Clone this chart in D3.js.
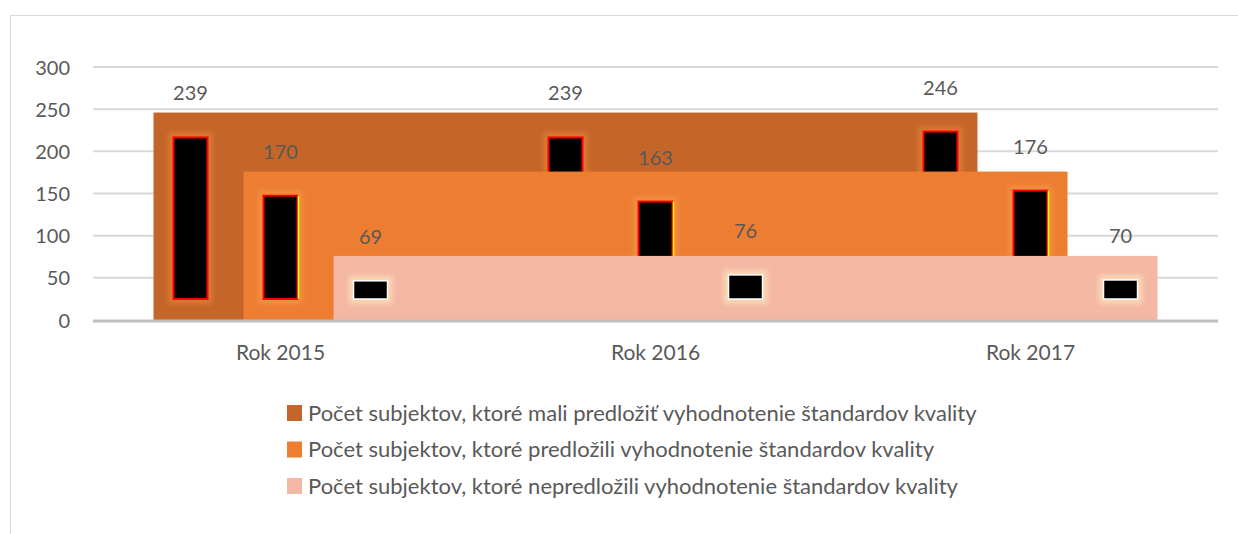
<!DOCTYPE html>
<html><head><meta charset="utf-8">
<script src="https://cdn.jsdelivr.net/npm/d3@7"></script>
<style>body{margin:0;background:#fff}svg{display:block}text{font-family:Lato,"Noto Sans",sans-serif;fill:#595959}</style>
</head><body><svg id="c" width="1238" height="534"></svg>
<script>
const categories = ["Rok 2015", "Rok 2016", "Rok 2017"];
const seriesNames = [
  "Počet subjektov, ktoré mali predložiť vyhodnotenie štandardov kvality",
  "Počet subjektov, ktoré predložili vyhodnotenie štandardov kvality",
  "Počet subjektov, ktoré nepredložili vyhodnotenie štandardov kvality"
];
const malPredlozit = [239, 239, 246];
const predlozili = [170, 163, 176];
const nepredlozili = [69, 76, 70];
const yTicks = [0, 50, 100, 150, 200, 250, 300];
const colors = ["#C4652A", "#ED7D31", "#F3B7A4"];
const rimColors = ["#FF0000", "#FF0000", "#FFFFFF"];
const haloColors = ["#F08A3A", "#F5A050", "#FFF0C0"];

const seriesValues = [malPredlozit, predlozili, nepredlozili];
const svg = d3.select("#c");
const defs = svg.append("defs");
defs.append("filter").attr("id","blur").attr("x","-50%").attr("y","-50%").attr("width","200%").attr("height","200%")
  .append("feGaussianBlur").attr("stdDeviation", 2.5);

// outer chart border
svg.append("rect").attr("x",10.5).attr("y",15.5).attr("width",1250).attr("height",540)
  .attr("fill","none").attr("stroke","#D9D9D9").attr("stroke-width",1);

const y = d3.scaleLinear().domain([0,300]).range([320,67]);
const x = d3.scaleBand().domain(categories).range([93,1218]);
const sub = d3.scaleBand().domain(d3.range(3)).range([0, x.bandwidth()]).paddingInner(0.178).paddingOuter(0.672);

// gridlines
svg.append("g").selectAll("line").data(yTicks.filter(t=>t>0)).join("line")
  .attr("x1",93).attr("x2",1218).attr("y1",d=>y(d)).attr("y2",d=>y(d))
  .attr("stroke","#D9D9D9").attr("stroke-width",2);

// y axis labels
const yAxis = d3.axisLeft(y).tickValues(yTicks).tickSize(0).tickPadding(0);
const ya = svg.append("g").attr("transform","translate(70,0)").call(yAxis);
ya.select(".domain").remove();
ya.selectAll("text").style("font-size","20px").attr("fill","#595959").attr("dy","0.35em");

const inTop = 19, inBot = 21, inSide = 20;
seriesValues.forEach((vals, s) => {
  const g = svg.append("g");
  const first = categories[0], last = categories[categories.length-1];
  const x0 = x(first) + sub(s), x1 = x(last) + sub(s) + sub.bandwidth();
  g.append("rect").attr("x", x0).attr("width", x1 - x0)
    .attr("y", y(d3.max(vals))).attr("height", y(0) - y(d3.max(vals)))
    .attr("fill", colors[s]);
  // halo
  g.selectAll("rect.halo").data(vals).join("rect").attr("class","halo")
    .attr("x",(d,i)=>x(categories[i])+sub(s)+inSide-5)
    .attr("width", sub.bandwidth()-2*inSide+10)
    .attr("y", d=>y(d)+inTop-5)
    .attr("height", d=>Math.max(0,y(0)-y(d)-inTop-inBot+10))
    .attr("fill", haloColors[s]).attr("opacity",0.55).attr("filter","url(#blur)");
  g.selectAll("rect.core").data(vals).join("rect").attr("class","core")
    .attr("x",(d,i)=>x(categories[i])+sub(s)+inSide)
    .attr("width", sub.bandwidth()-2*inSide)
    .attr("y", d=>y(d)+inTop)
    .attr("height", d=>Math.max(0,y(0)-y(d)-inTop-inBot))
    .attr("fill","#000").attr("stroke",rimColors[s]).attr("stroke-width",s===2?1.5:2);
  if (s===1) {
    g.selectAll("line.yl").data(vals).join("line").attr("class","yl")
      .attr("x1",(d,i)=>x(categories[i])+sub(s)+sub.bandwidth()-inSide+1)
      .attr("x2",(d,i)=>x(categories[i])+sub(s)+sub.bandwidth()-inSide+1)
      .attr("y1",d=>y(d)+inTop).attr("y2",y(0)-inBot)
      .attr("stroke","#FFFF00").attr("stroke-width",1.5);
  }
});

// data labels
seriesValues.forEach((vals, s) => {
  svg.append("g").selectAll("text").data(vals).join("text")
    .attr("x",(d,i)=>x(categories[i])+sub(s)+sub.bandwidth()/2)
    .attr("y", d=>y(d)-18)
    .attr("text-anchor","middle").style("font-size","20px").text(d=>d);
});

// x axis line
svg.append("line").attr("x1",93).attr("x2",1218).attr("y1",321).attr("y2",321)
  .attr("stroke","#BFBFBF").attr("stroke-width",3);
const xAxis = d3.axisBottom(x).tickSize(0).tickPadding(0);
const xa = svg.append("g").attr("transform","translate(0,344)").call(xAxis);
xa.select(".domain").remove();
xa.selectAll("text").style("font-size","21px").attr("fill","#595959").attr("dy","0.75em");

// legend
const lg = svg.append("g").selectAll("g").data(seriesNames).join("g")
  .attr("transform",(d,i)=>`translate(287,${405 + i*36.5})`);
lg.append("rect").attr("width",15).attr("height",16).attr("fill",(d,i)=>colors[i]);
lg.append("text").attr("x",21).attr("y",8).attr("dy","0.35em").style("font-size","22px").text(d=>d);
</script></body></html>
